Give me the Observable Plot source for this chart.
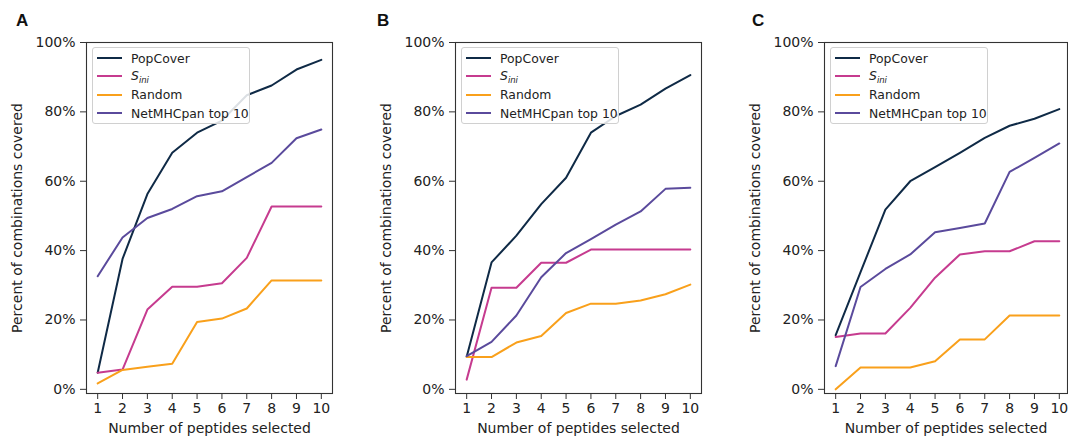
<!DOCTYPE html>
<html><head><meta charset="utf-8">
<script src="https://cdn.jsdelivr.net/npm/d3@7"></script>
<script src="https://cdn.jsdelivr.net/npm/@observablehq/plot@0.6"></script>
<style>
body{margin:0;background:#fff;}
#root{position:relative;width:1068px;height:438px;overflow:hidden;font-family:"DejaVu Sans",sans-serif;background:#fff;}
.panel{position:absolute;top:0;}
.letter{position:absolute;font:bold 17px "Liberation Sans",Arial,sans-serif;color:#111;line-height:1;}
.legend{position:absolute;width:156px;height:75px;border:1px solid #d0d0d0;border-radius:3px;background:rgba(255,255,255,0.85);box-sizing:content-box;}
.row{position:absolute;left:0;height:18px;display:flex;align-items:center;font-size:12.4px;color:#222;white-space:nowrap;}
.row .ln{display:inline-block;width:25px;height:2px;margin-left:4px;margin-right:9px;}
.row sub{font-size:8.5px;font-style:italic;vertical-align:-3px;}
</style></head><body><div id="root"></div>
<script>
const peptides = [1, 2, 3, 4, 5, 6, 7, 8, 9, 10];
const seriesNames = ["PopCover", "S_ini", "Random", "NetMHCpan top 10"];
const seriesColors = ["#0f2a46", "#c63b8f", "#f9a01b", "#5a4a9c"];
const yTicks = [0, 20, 40, 60, 80, 100];

// Panel A
const popCoverA = [4.8, 37.6, 56.3, 68.2, 74.0, 77.5, 84.8, 87.6, 92.2, 95.0];
const siniA     = [4.8, 5.7, 23.0, 29.6, 29.6, 30.6, 37.9, 52.7, 52.7, 52.7];
const randomA   = [1.7, 5.6, 6.5, 7.4, 19.4, 20.4, 23.3, 31.4, 31.4, 31.4];
const netmhcA   = [32.6, 43.8, 49.4, 52.0, 55.7, 57.1, 61.2, 65.3, 72.4, 74.9];
// Panel B
const popCoverB = [9.4, 36.6, 44.3, 53.4, 61.0, 74.0, 78.8, 82.1, 86.7, 90.6];
const siniB     = [2.8, 29.3, 29.3, 36.5, 36.5, 40.3, 40.3, 40.3, 40.3, 40.3];
const randomB   = [9.3, 9.3, 13.5, 15.4, 22.0, 24.7, 24.7, 25.6, 27.4, 30.2];
const netmhcB   = [9.6, 13.7, 21.3, 32.3, 39.3, 43.3, 47.5, 51.3, 57.8, 58.1];
// Panel C
const popCoverC = [15.6, 33.8, 51.8, 60.0, 64.1, 68.2, 72.5, 76.0, 78.0, 80.8];
const siniC     = [15.1, 16.1, 16.1, 23.5, 32.2, 38.9, 39.8, 39.8, 42.7, 42.7];
const randomC   = [0.0, 6.3, 6.3, 6.3, 8.1, 14.4, 14.4, 21.3, 21.3, 21.3];
const netmhcC   = [6.7, 29.5, 34.7, 38.9, 45.3, 46.5, 47.8, 62.7, 66.7, 70.9];

const panels = [
  {letter: "A", series: [popCoverA, siniA, randomA, netmhcA], left: 0, marginLeft: 86, marginRight: 24, xDomain: [0.55, 10.45], letterX: 16, letterY: 12},
  {letter: "B", series: [popCoverB, siniB, randomB, netmhcB], left: 356, marginLeft: 99, marginRight: 11, xDomain: [0.55, 10.45], letterX: 377, letterY: 12},
  {letter: "C", series: [popCoverC, siniC, randomC, netmhcC], left: 712, marginLeft: 112, marginRight: 1, xDomain: [0.55, 10.33], letterX: 752, letterY: 12}
];

const root = document.getElementById("root");
const W = 356, H = 438, MT = 42, MB = 45;

for (const p of panels) {
  const rows = [];
  p.series.forEach((vals, si) => {
    peptides.forEach((x, i) => rows.push({x, y: vals[i], s: seriesNames[si]}));
  });
  const chart = Plot.plot({
    width: W, height: H,
    marginTop: MT, marginBottom: MB, marginLeft: p.marginLeft, marginRight: p.marginRight,
    style: {fontFamily: "DejaVu Sans, sans-serif", fontSize: "14px", color: "#222", background: "transparent", overflow: "visible"},
    x: {domain: p.xDomain, ticks: peptides, tickFormat: d => String(d)},
    y: {domain: [-1.2, 100]},
    color: {domain: seriesNames, range: seriesColors},
    marks: [
      Plot.lineY(rows, {x: "x", y: "y", stroke: "s", strokeWidth: 2, z: "s"}),
      Plot.frame({stroke: "#333", strokeWidth: 1.1}),
      Plot.axisX({ticks: peptides, tickSize: 6, tickPadding: 4, fontSize: 14, stroke: "#333",
        label: "Number of peptides selected", labelAnchor: "center", labelOffset: 39, labelArrow: "none"}),
      Plot.axisY({ticks: yTicks, tickFormat: d => d + "%", tickSize: 6, tickPadding: 5, fontSize: 14, stroke: "#333",
        label: "Percent of combinations covered", labelAnchor: "center", labelOffset: 74, labelArrow: "none"})
    ]
  });
  chart.classList.add("panel");
  chart.style.left = p.left + "px";
  root.appendChild(chart);

  const letter = document.createElement("div");
  letter.className = "letter";
  letter.textContent = p.letter;
  letter.style.left = p.letterX + "px";
  letter.style.top = p.letterY + "px";
  root.appendChild(letter);

  const lg = document.createElement("div");
  lg.className = "legend";
  lg.style.left = (p.left + p.marginLeft + 6) + "px";
  lg.style.top = (MT + 5) + "px";
  seriesNames.forEach((name, i) => {
    const r = document.createElement("div");
    r.className = "row";
    r.style.top = (1 + i * 18.4) + "px";
    const label = name === "S_ini" ? "<i>S</i><sub>ini</sub>" : name;
    r.innerHTML = `<span class="ln" style="background:${seriesColors[i]}"></span><span>${label}</span>`;
    lg.appendChild(r);
  });
  root.appendChild(lg);
}
</script></body></html>
